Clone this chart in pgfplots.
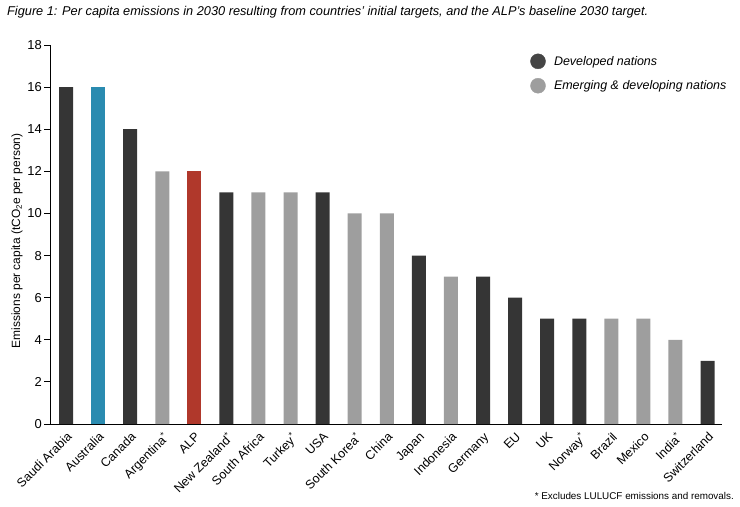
\documentclass[border=0pt]{standalone}
\usepackage{pgfplots}
\pgfplotsset{compat=1.18}
\usepackage{fontspec}
\setmainfont{Liberation Sans}
\definecolor{dev}{HTML}{353535}
\definecolor{emg}{HTML}{9E9E9E}
\definecolor{aus}{HTML}{2A8BB0}
\definecolor{alp}{HTML}{B0382B}
\definecolor{legdev}{HTML}{454545}
\begin{document}
\begin{tikzpicture}
\useasboundingbox (0,0) rectangle (740bp,-507bp);
\node[anchor=west, font=\fontsize{12.8}{14}\selectfont\itshape, inner sep=0pt] at (7bp,-12bp) {Figure 1: Per capita emissions in 2030 resulting from countries’ initial targets, and the ALP’s baseline 2030 target.};
\begin{axis}[
  at={(50bp,-424bp)}, anchor=south west,
  width=672bp, height=379bp, scale only axis,
  xmin=-0.5, xmax=20.45, ymin=0, ymax=18,
  axis lines=left, axis line style={-, line width=1pt},
  ytick={0,2,...,18}, tick align=outside,
  major tick length=6bp,
  ytick style={line width=0.8pt, black},
  xtick={0,...,20},
  xtick style={draw=none},
  /pgf/number format/assume math mode=true,
  xticklabels={Saudi Arabia, Australia, Canada, Argentina\textsuperscript{*}, ALP, New Zealand\textsuperscript{*}, South Africa, Turkey\textsuperscript{*}, USA, South Korea\textsuperscript{*}, China, Japan, Indonesia, Germany, EU, UK, Norway\textsuperscript{*}, Brazil, Mexico, India\textsuperscript{*}, Switzerland},
  x tick label style={rotate=45, anchor=north east, font=\fontsize{12.5}{14}\selectfont, inner sep=1pt},
  y tick label style={font=\fontsize{13}{14}\selectfont, inner sep=2pt},
  ylabel={Emissions per capita (tCO\textsubscript{2}e per person)},
  ylabel style={at={(axis description cs:-0.049,0.483)}, anchor=center, font=\fontsize{12}{14}\selectfont},
  ybar, bar width=14bp,
  legend style={at={(0.71,0.983)}, anchor=north west, draw=none, fill=none, font=\fontsize{12.5}{14}\selectfont\itshape, row sep=9bp},
  legend cell align=left,
  legend image code/.code={\fill[#1] (0bp,0bp) circle (7.5bp); \path[draw=none, fill=none] (0bp,0bp) -- (14bp,0bp);},
]
\addplot[bar shift=0pt, fill=dev, draw=none, forget plot] coordinates {(0,16) (2,14) (5,11) (8,11) (11,8) (13,7) (14,6) (15,5) (16,5) (20,3)};
\addplot[bar shift=0pt, fill=emg, draw=none, forget plot] coordinates {(3,12) (6,11) (7,11) (9,10) (10,10) (12,7) (17,5) (18,5) (19,4)};
\addplot[bar shift=0pt, fill=aus, draw=none, forget plot] coordinates {(1,16)};
\addplot[bar shift=0pt, fill=alp, draw=none, forget plot] coordinates {(4,12)};
\addlegendimage{legdev}
\addlegendentry{Developed nations}
\addlegendimage{emg}
\addlegendentry{Emerging \& developing nations}
\end{axis}
\node[anchor=east, font=\fontsize{9.9}{11}\selectfont, inner sep=0pt] at (734bp,-496bp) {* Excludes LULUCF emissions and removals.};
\end{tikzpicture}
\end{document}
